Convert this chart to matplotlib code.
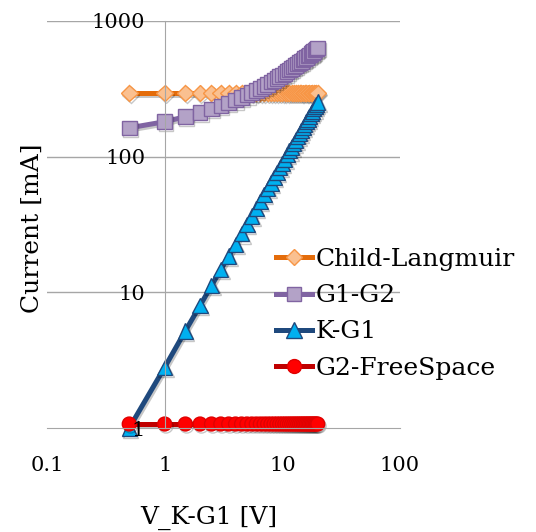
import matplotlib
matplotlib.use("Agg")
import matplotlib.pyplot as plt
import matplotlib.patheffects as pe

plt.rcParams["font.family"] = ["DejaVu Serif"]

# grid voltage steps, 0.5 V to 20 V
v_kg1 = [0.5, 1.0, 1.5, 2.0, 2.5, 3.0, 3.5, 4.0, 4.5, 5.0,
         5.5, 6.0, 6.5, 7.0, 7.5, 8.0, 8.5, 9.0, 9.5, 10.0,
         10.5, 11.0, 11.5, 12.0, 12.5, 13.0, 13.5, 14.0, 14.5, 15.0,
         15.5, 16.0, 16.5, 17.0, 17.5, 18.0, 18.5, 19.0, 19.5, 20.0]

child_langmuir = [295] * 40

g1_g2 = [163, 181, 197, 211, 225, 237, 249, 261, 272, 284,
         296, 307, 319, 330, 342, 354, 365, 377, 388, 400,
         412, 423, 435, 447, 458, 470, 481, 493, 505, 516,
         528, 540, 551, 563, 575, 586, 598, 610, 621, 633]

k_g1 = [1.0, 2.8, 5.2, 8.0, 11.2, 14.7, 18.5, 22.6, 27.0, 31.6,
        36.5, 41.6, 46.9, 52.4, 58.1, 64.0, 70.1, 76.4, 82.9, 89.5,
        96.3, 103.3, 110.4, 117.6, 125.1, 132.7, 140.4, 148.2, 156.3, 164.4,
        172.7, 181.1, 189.7, 198.4, 207.2, 216.1, 225.2, 234.4, 243.7, 253.1]

g2_free = [1.07] * 40

series = [
    ("Child-Langmuir", child_langmuir, "D", "#E46C0A", "#FAC090", "#F79646", 8.5),
    ("G1-G2", g1_g2, "s", "#8064A2", "#B3A2C7", "#8064A2", 10.5),
    ("K-G1", k_g1, "^", "#1F497D", "#00B0F0", "#1F497D", 11),
    ("G2-FreeSpace", g2_free, "o", "#C00000", "#FF0000", "#E00000", 10),
]

fig = plt.figure(figsize=(5.36, 5.32), dpi=100)
ax = fig.add_axes([47 / 536, 1 - 428 / 532, 353 / 536, 407 / 532])

ax.set_xscale("log")
ax.set_yscale("log")
ax.set_xlim(0.1, 100)
ax.set_ylim(1, 1000)

grid_c = "#A6A6A6"
for y in [10, 100, 1000]:
    ax.axhline(y, color=grid_c, lw=1, zorder=0)

for side in ["top", "right"]:
    ax.spines[side].set_visible(False)
ax.spines["bottom"].set_color(grid_c)
ax.spines["left"].set_color(grid_c)
ax.spines["left"].set_position(("data", 1))

shadow = [pe.SimpleLineShadow(offset=(1.0, -1.5), alpha=0.22, shadow_color="black"),
          pe.Normal()]

for name, vals, mk, lc, fc, ec, ms in series:
    ax.plot(v_kg1, vals, color=lc, lw=3.6, marker=mk, ms=ms,
            markerfacecolor=fc, markeredgecolor=ec, markeredgewidth=1.0,
            label=name, clip_on=False, path_effects=shadow)

ax.set_xticks([0.1, 1, 10, 100])
ax.set_xticklabels(["0.1", "1", "10", "100"])
ax.set_yticks([1, 10, 100, 1000])
ax.set_yticklabels(["1", "10", "100", "1000"])
ax.minorticks_off()
ax.tick_params(axis="both", length=0, labelsize=15)
ax.tick_params(axis="y", pad=14)
ax.tick_params(axis="x", pad=20)
# keep the "1" label in front of the first markers
ax.yaxis.set_zorder(5)
for lbl in ax.get_yticklabels():
    lbl.set_clip_on(False)

fig.text(209 / 536, 1 - 518 / 532, "V_K-G1 [V]", ha="center", va="center", fontsize=18)
fig.text(32 / 536, 1 - 228 / 532, "Current [mA]", ha="center", va="center",
         rotation=90, fontsize=18)

leg = ax.legend(loc="upper left", bbox_to_anchor=(276 / 536, 1 - 248 / 532),
                bbox_transform=fig.transFigure, frameon=False, fontsize=18,
                borderpad=0, borderaxespad=0, handlelength=1.45,
                handletextpad=0.15, labelspacing=0.53)
for h in leg.legend_handles:
    h.set_path_effects([])

fig.savefig("out.png", dpi=100)
